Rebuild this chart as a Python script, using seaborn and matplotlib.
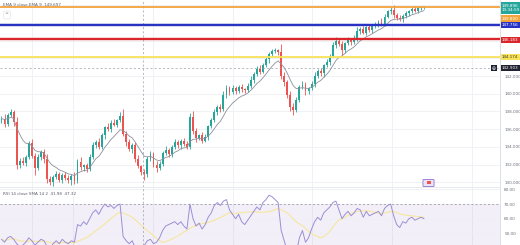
import numpy as np
import pandas as pd
import matplotlib
matplotlib.use("Agg")
import matplotlib.pyplot as plt
import matplotlib.patches as mpatches
import seaborn as sns

# ---------------- data ----------------
first_open = 137.0
closes = [
    137.2, 136.6, 137.6, 137.9, 136.8, 131.9, 132.4, 132.2, 132.9, 134.4,
    133.0, 131.6, 132.8, 133.4, 132.6, 130.4, 130.0, 130.6, 130.9, 130.3,
    130.8, 130.5, 130.2, 130.7, 130.1, 132.3, 131.7, 131.9, 131.5, 132.8,
    134.2, 134.6, 134.0, 135.3, 136.2, 136.0, 136.7, 136.5, 137.0, 137.5,
    135.5, 134.5, 133.8, 134.2, 132.6, 131.8, 131.2, 130.9, 132.6, 133.2,
    132.0, 131.6, 132.1, 133.3, 133.6, 133.2, 134.0, 134.5, 134.2, 134.7,
    134.3, 134.0, 137.4, 135.8, 135.0, 135.3, 134.7, 135.1, 136.3, 137.0,
    137.9, 138.5, 138.3, 139.8, 140.7, 140.2, 140.6, 140.3, 140.8, 140.5,
    140.4, 140.9, 141.6, 142.2, 142.8, 142.5, 143.3, 143.9, 144.5, 144.8,
    144.9, 144.7, 142.0, 141.3, 139.8, 138.5, 138.2, 139.3, 140.8, 141.0,
    140.3, 140.6, 141.1, 142.0, 142.6, 142.3, 143.2, 143.6, 144.3, 145.5,
    146.0, 145.6, 144.9, 145.7, 146.1, 145.8, 146.3, 147.1, 147.3, 146.9,
    147.5, 147.2, 147.6, 147.8, 148.1, 147.9, 148.7, 149.3, 149.5, 148.9,
    148.6, 148.4, 148.8, 149.1, 149.3, 149.6, 149.4, 149.7, 149.8, 149.85,
]
upper_wick = [
    0.3, 0.5, 0.2, 0.4, 0.3, 0.6, 0.3, 0.4, 0.2, 0.3,
    0.5, 0.3, 0.4, 0.2, 0.3, 0.6, 0.3, 0.2, 0.4, 0.3,
    0.2, 0.4, 0.3, 0.2, 0.5, 0.3, 0.6, 0.2, 0.3, 0.4,
    0.3, 0.2, 0.4, 0.3, 0.2, 0.5, 0.3, 0.4, 0.2, 0.4,
    0.8, 0.3, 0.4, 0.2, 0.3, 0.5, 0.2, 0.3, 0.4, 0.3,
    0.2, 0.4, 0.3, 0.2, 0.5, 0.3, 0.2, 0.4, 0.3, 0.2,
    0.3, 0.4, 0.4, 0.6, 0.3, 0.2, 0.4, 0.3, 0.2, 0.3,
    0.4, 0.2, 0.3, 0.5, 0.3, 0.2, 0.4, 0.3, 0.2, 0.3,
    0.2, 0.3, 0.4, 0.2, 0.3, 0.5, 0.2, 0.3, 0.2, 0.3,
    0.3, 0.2, 0.9, 0.4, 0.3, 0.5, 0.4, 0.3, 0.2, 0.4,
    0.3, 0.2, 0.3, 0.4, 0.2, 0.3, 0.2, 0.3, 0.2, 0.3,
    0.4, 0.3, 0.4, 0.2, 0.3, 0.2, 0.3, 0.4, 0.2, 0.3,
    0.2, 0.3, 0.2, 0.3, 0.2, 0.4, 0.3, 0.2, 0.3, 0.5,
    0.2, 0.3, 0.2, 0.3, 0.2, 0.2, 0.3, 0.2, 0.1, 0.1,
]
lower_wick = [
    0.3, 0.4, 0.3, 0.2, 0.5, 0.4, 0.3, 0.2, 0.4, 0.3,
    0.3, 0.8, 0.2, 0.3, 0.4, 0.5, 0.3, 0.4, 0.2, 0.3,
    0.4, 0.2, 0.3, 0.5, 0.3, 0.2, 0.3, 0.4, 0.3, 0.2,
    0.2, 0.3, 0.3, 0.2, 0.4, 0.2, 0.3, 0.2, 0.3, 0.2,
    0.3, 0.4, 0.3, 0.5, 0.3, 0.2, 0.4, 0.6, 0.3, 0.2,
    0.3, 0.4, 0.2, 0.3, 0.2, 0.4, 0.3, 0.2, 0.3, 0.4,
    0.2, 0.3, 0.2, 0.3, 0.4, 0.2, 0.3, 0.2, 0.3, 0.2,
    0.2, 0.3, 0.4, 0.2, 0.3, 0.4, 0.2, 0.3, 0.2, 0.3,
    0.3, 0.2, 0.3, 0.4, 0.2, 0.3, 0.2, 0.3, 0.4, 0.2,
    0.2, 0.3, 0.3, 0.4, 0.3, 0.4, 0.6, 0.3, 0.2, 0.3,
    0.4, 0.3, 0.2, 0.3, 0.2, 0.3, 0.4, 0.2, 0.3, 0.2,
    0.3, 0.2, 0.5, 0.3, 0.2, 0.3, 0.2, 0.3, 0.4, 0.2,
    0.3, 0.2, 0.3, 0.2, 0.3, 0.2, 0.3, 0.2, 0.3, 0.4,
    0.3, 0.2, 0.3, 0.2, 0.3, 0.2, 0.2, 0.3, 0.2, 0.2,
]
rsi_values = [
    46, 44, 47, 48, 46, 43, 41, 42, 44, 47,
    45, 42, 44, 46, 45, 41, 40, 43, 45, 43,
    46, 44, 43, 45, 44, 56, 55, 58, 56, 60,
    64, 66, 63, 67, 70, 68, 69, 67, 69, 70,
    48, 45, 43, 45, 40, 38, 36, 42, 45, 46,
    43, 44, 47, 52, 55, 56, 57, 58, 56, 58,
    55, 53, 70, 60, 55, 57, 53, 56, 61, 64,
    69, 71, 69, 72, 73, 66, 63, 60, 63, 58,
    56, 59, 62, 65, 68, 66, 71, 73, 76, 75,
    73, 71, 52, 45, 38, 33, 32, 37, 47, 52,
    44, 47, 53, 58, 61, 59, 64, 66, 68, 71,
    72, 66, 60, 63, 65, 62, 64, 67, 66, 61,
    65, 62, 63, 64, 65, 62, 67, 69, 70, 62,
    56, 54, 58, 57, 60, 61, 59, 60, 61, 60,
]

level_prices = [149.80, 147.756, 146.183, 144.174]
level_labels = ["149.800", "147.756", "146.183", "144.174"]
level_colors = ["#f2a33a", "#2833c4", "#d9262b", "#f8e257"]
crosshair_price = 142.903
crosshair_label = "142.903"
last_price_label = "149.896\n13:34:59"
price_ticks = [130, 132, 134, 136, 138, 140, 142]
price_tick_labels = ["130.000", "132.000", "134.000", "136.000", "138.000", "140.000", "142.000"]
rsi_ticks = [50, 60, 70, 80]
rsi_tick_labels = ["50.00", "60.00", "70.00", "80.00"]

# ---------------- derived ----------------
c = np.array(closes)
o = np.concatenate([[first_open], c[:-1]])
hi = np.maximum(o, c) + np.array(upper_wick)
lo = np.minimum(o, c) - np.array(lower_wick)
idx = np.arange(len(c))
df = pd.DataFrame({"i": idx, "open": o, "close": c, "high": hi, "low": lo,
                   "rsi": rsi_values})
df["ema"] = df["close"].ewm(span=9, adjust=False).mean()
df["rsi_ma"] = df["rsi"].rolling(14, min_periods=1).mean()

# ---------------- figure ----------------
sns.set_theme(style="white")
plt.rcParams["font.family"] = ["DejaVu Sans"]
W, H = 520, 245
fig = plt.figure(figsize=(5.2, 2.45), dpi=100)
fig.patch.set_facecolor("white")


def px_axes(x0, y0, x1, y1):
    return fig.add_axes([x0 / W, 1 - y1 / H, (x1 - x0) / W, (y1 - y0) / H])


ax = px_axes(0, 0, 500, 187)
rx = px_axes(0, 187, 500, 245)

XL = (-0.49, 163.98)
grid_x = [10.0, 23.5, 49.8, 76.1, 102.1, 128.5, 154.8]
grid_col = "#eceff4"

for a in (ax, rx):
    a.set_xlim(*XL)
    for s in a.spines.values():
        s.set_visible(False)
    a.set_xticks([])
    for gx in grid_x:
        a.axvline(gx, color=grid_col, lw=0.6, zorder=0)
    a.axvline(46.5, color="#9a9ea8", lw=0.5, ls=(0, (3, 3)), zorder=5)

# main pane
ax.set_ylim(129.46, 150.59)
for yt in range(130, 151, 2):
    ax.axhline(yt, color=grid_col, lw=0.6, zorder=0)

up = df["close"] >= df["open"]
colors = np.where(up, "#26a69a", "#ef5350")
ax.vlines(df["i"], df["low"], df["high"], colors=colors, lw=0.6, zorder=2)
body = np.maximum((df["close"] - df["open"]).abs(), 0.06)
ax.bar(df["i"], body, bottom=np.minimum(df["open"], df["close"]), width=0.62,
       color=colors, linewidth=0, zorder=3)
sns.lineplot(data=df, x="i", y="ema", ax=ax, color="#8c909b", lw=0.6, zorder=4)
ax.set_xlim(*XL)
ax.set_xlabel("")
ax.set_ylabel("")

for p, col in zip(level_prices, level_colors):
    ax.axhline(p, color=col, lw=1.7 if col in ("#2833c4", "#d9262b") else 1.3, zorder=6)
ax.axhline(crosshair_price, color="#9a9ea8", lw=0.5, ls=(0, (3, 3)), zorder=5)

ax.yaxis.tick_right()
ax.set_yticks(price_ticks)
ax.set_yticklabels(price_tick_labels)
ax.tick_params(axis="y", length=0, pad=3, labelsize=3, labelcolor="#6a6d78")

# RSI pane
rx.set_ylim(42.1, 81.6)
rx.axhspan(30, 70, color="#7e57c2", alpha=0.09, lw=0, zorder=0)
for yt in rsi_ticks:
    if yt != 70:
        rx.axhline(yt, color=grid_col, lw=0.6, zorder=0)
rx.axhline(70, color="#9a9ea8", lw=0.6, ls=(0, (2.5, 2.5)), zorder=1)
sns.lineplot(data=df, x="i", y="rsi_ma", ax=rx, color="#f5e7a6", lw=0.9, zorder=2)
sns.lineplot(data=df, x="i", y="rsi", ax=rx, color="#9b8fd4", lw=0.7, zorder=3)
rx.set_xlim(*XL)
rx.set_xlabel("")
rx.set_ylabel("")
rx.yaxis.tick_right()
rx.set_yticks(rsi_ticks)
rx.set_yticklabels(rsi_tick_labels)
rx.tick_params(axis="y", length=0, pad=3, labelsize=3, labelcolor="#6a6d78")

# borders
fig.add_artist(plt.Line2D([500 / W, 500 / W], [0, 1], color="#d8dbe2", lw=0.6))
fig.add_artist(plt.Line2D([0, 500 / W], [1 - 187 / H, 1 - 187 / H], color="#e3e6ec", lw=0.6))


def price_label(y_px, text, bg, fg="white"):
    fig.text(502 / W, 1 - y_px / H, text, fontsize=3, color=fg, va="center", ha="left",
             linespacing=1.3,
             bbox=dict(boxstyle="square,pad=0.3", fc=bg, ec="none"))


price_label(8, last_price_label, "#26a69a")
price_label(18.5, level_labels[0], level_colors[0])
price_label(25, level_labels[1], level_colors[1])
price_label(40, level_labels[2], level_colors[2])
price_label(57, level_labels[3], level_colors[3], fg="#3a3a3a")
price_label(68, crosshair_label, "#1f2230")
fig.text(494 / W, 1 - 68 / H, "⊕", fontsize=3.5, color="white", va="center", ha="center",
         bbox=dict(boxstyle="square,pad=0.2", fc="#1f2230", ec="none"))

# legends
fig.text(3 / W, 1 - 5 / H, "EMA 9 close EMA 9  149.697", fontsize=3, color="#5d606b",
         va="center", ha="left")
fig.text(7 / W, 1 - 15 / H, "^", fontsize=3.5, color="#5d606b", va="center", ha="center",
         bbox=dict(boxstyle="round,pad=0.3", fc="white", ec="#dcdfe6", lw=0.4))
fig.text(3 / W, 1 - 194 / H, "RSI 14 close SMA 14 2  41.98  47.32", fontsize=3,
         color="#5d606b", va="center", ha="left")

# small flag icon
fig.add_artist(mpatches.FancyBboxPatch((424 / W, 1 - 186 / H), 9 / W, 6 / H,
                                       boxstyle="round,pad=0.002", fc="#e8e4f6",
                                       ec="#7e57c2", lw=0.5, transform=fig.transFigure))
fig.add_artist(mpatches.Rectangle((427 / W, 1 - 184 / H), 4 / W, 3 / H, fc="#ef5350",
                                  ec="none", transform=fig.transFigure))

fig.savefig("out.png", dpi=100, facecolor="white")
